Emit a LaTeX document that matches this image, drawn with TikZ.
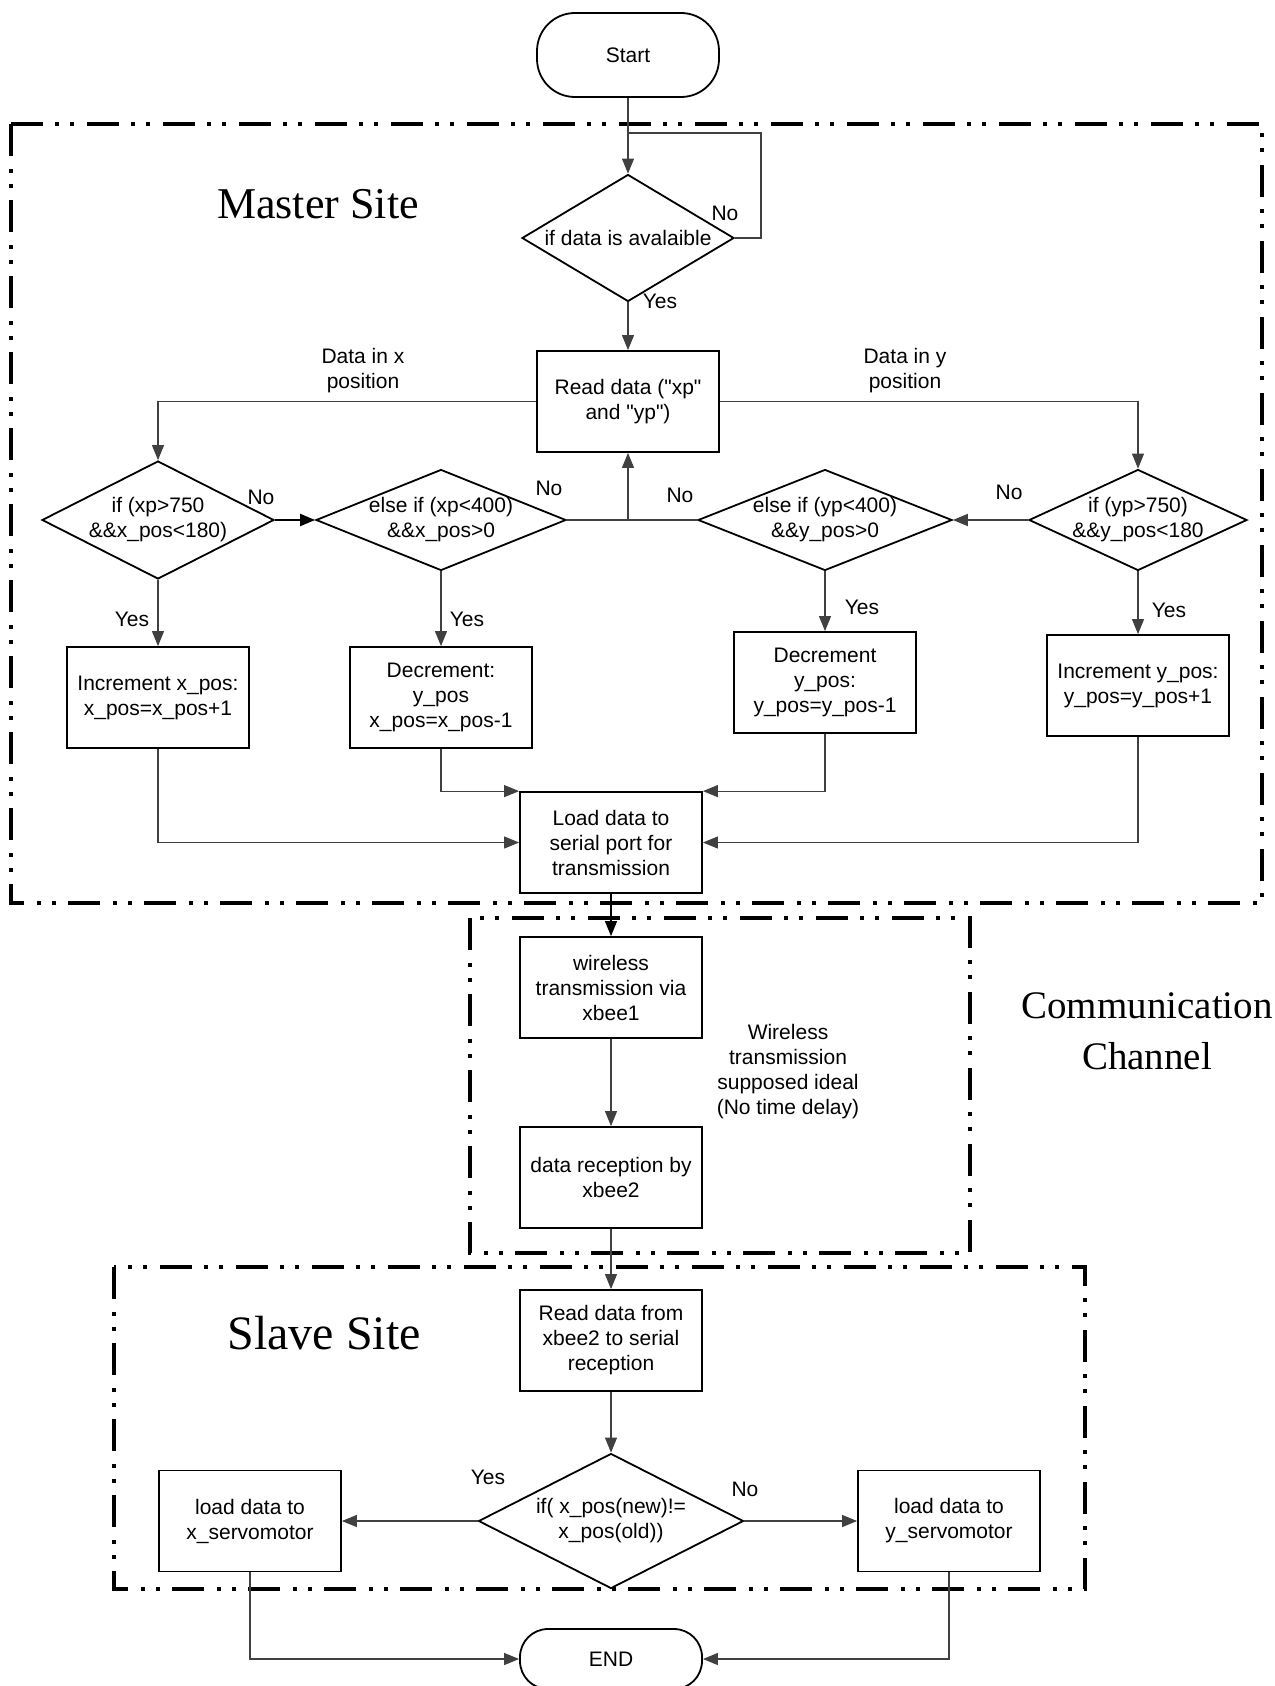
\documentclass[tikz,border=0pt]{standalone}
\usepackage{fontspec}
\setmainfont{Liberation Sans}
\newfontfamily\titlefont{Liberation Serif}
\usetikzlibrary{shapes.geometric,arrows.meta}
\newcommand\flowfont{\fontsize{10.5pt}{12.5pt}\selectfont}

\begin{document}
\begin{tikzpicture}[x=0.5pt,y=-0.5pt,
  every node/.style={font=\flowfont},
  box/.style={draw=black, line width=0.9pt, align=center, minimum width=91pt,
    minimum height=50.5pt, inner sep=1pt},
  term/.style={draw=black, line width=0.9pt, minimum width=91pt, minimum height=42pt},
  dec/.style={draw=black, diamond, line width=0.9pt, inner sep=0pt},
  txt/.style={align=center, inner sep=0pt},
  link/.style={draw=black!75, line width=0.55pt},
  flow/.style={link, -{Triangle[length=7.5pt,width=6pt]}},
  region/.style={draw=black, line width=1.7pt,
    dash pattern=on 16pt off 6.5pt on 2pt off 5.5pt on 2pt off 6pt},
  heading/.style={inner sep=0pt, align=center}
]
\useasboundingbox (0,0) rectangle (1274,1686);
\clip (0,0) rectangle (1274,1686);

% ---- site frames ----
\draw[region] (11,124) rectangle (1262,903);
\draw[region] (470,918) rectangle (970,1253);
\draw[region] (114,1267) rectangle (1085,1589);

\node[heading, font=\titlefont\fontsize{22pt}{26pt}\selectfont] (mtitle) at (318,204) {Master Site};
\node[heading, font=\titlefont\fontsize{19.5pt}{25.5pt}\selectfont] (ctitle) at (1147,1031) {Communication\\Channel};
\node[heading, font=\titlefont\fontsize{24pt}{28pt}\selectfont] (stitle) at (324,1333) {Slave Site};

% ---- master site ----
\node[term, rounded corners=19pt] (start) at (628,55) {Start};
\node[dec, minimum width=106pt, minimum height=63.5pt,
  label={[txt]center:{if data is avalaible}}] (avail) at (628,238) {};
\node[box] (read) at (628,401.5) {Read data (\textquotedbl xp\textquotedbl\\and \textquotedbl yp\textquotedbl)};

\node[dec, minimum width=116pt, minimum height=59pt,
  label={[txt]center:{if (xp>750\\\&\&x\_pos<180)}}] (d1) at (158,520) {};
\node[dec, minimum width=125pt, minimum height=50.5pt,
  label={[txt]center:{else if (xp<400)\\\&\&x\_pos>0}}] (d2) at (441,520) {};
\node[dec, minimum width=127pt, minimum height=50.5pt,
  label={[txt]center:{else if (yp<400)\\\&\&y\_pos>0}}] (d3) at (825,520) {};
\node[dec, minimum width=109pt, minimum height=50.5pt,
  label={[txt]center:{if (yp>750)\\\&\&y\_pos<180}}] (d4) at (1138,520) {};

\node[box] (b1) at (158,697.5) {Increment x\_pos:\\x\_pos=x\_pos+1};
\node[box] (b2) at (441,697.5) {Decrement:\\y\_pos\\x\_pos=x\_pos-1};
\node[box] (b3) at (825,682.5) {Decrement\\y\_pos:\\y\_pos=y\_pos-1};
\node[box] (b4) at (1138,685.5) {Increment y\_pos:\\y\_pos=y\_pos+1};

\node[box] (load) at (611,842.5) {Load data to\\serial port for\\transmission};

% ---- communication channel ----
\node[box] (wl) at (611,987.5) {wireless\\transmission via\\xbee1};
\node[box] (rec) at (611,1177.5) {data reception by\\xbee2};
\node[txt] (wnote) at (788,1072) {Wireless\\transmission\\supposed ideal\\(No time delay)};

% ---- slave site ----
\node[box] (rd2) at (611,1340.5) {Read data from\\xbee2 to serial\\reception};
\node[dec, minimum width=132.5pt, minimum height=67.5pt,
  label={[txt]center:{if( x\_pos(new)!=\\x\_pos(old))}}] (dec) at (611,1521) {};
\node[box] (xs) at (250,1521) {load data to\\x\_servomotor};
\node[box] (ys) at (949,1521) {load data to\\y\_servomotor};
\node[term, rounded corners=14pt, minimum height=30pt] (fin) at (611,1659) {END};

% ---- connectors ----
\coordinate (loopin) at (628,133);
\coordinate (merge) at (628,520);
\draw[flow] (start) -- (avail);
\draw[link] (avail.east) -- (761,238) |- (loopin);
\draw[flow] (avail) -- (read);
\draw[flow] (read.west) -| (d1.north);
\draw[flow] (read.east) -| (d4.north);
\draw[flow, line width=1.1pt, draw=black] (d1.east) -- (d2.west);
\draw[link] (d2.east) -- (merge);
\draw[link] (d3.west) -- (merge);
\draw[flow] (merge) -- (read.south);
\draw[flow, line width=0.9pt] (d4.west) -- (d3.east);

\draw[flow] (d1) -- (b1);
\draw[flow] (d2) -- (b2);
\draw[flow] (d3) -- (b3);
\draw[flow] (d4) -- (b4);

\draw[flow] (b2.south) |- (load.north west);
\draw[flow] (b3.south) |- (load.north east);
\draw[flow] (b1.south) |- (load.west);
\draw[flow] (b4.south) |- (load.east);

\draw[flow, draw=black] (load) -- (wl);
\draw[flow] (wl) -- (rec);
\draw[flow] (rec) -- (rd2);
\draw[flow] (rd2) -- (dec);
\draw[flow] (dec) -- (xs);
\draw[flow] (dec) -- (ys);
\draw[flow] (xs.south) |- (fin.west);
\draw[flow] (ys.south) |- (fin.east);

% ---- branch labels ----
\node (lyes0) at (660,301) {Yes};
\node (lno0) at (725,213) {No};
\node[txt] (lx) at (363,371) {Data in x\\position};
\node[txt] (ly) at (905,371) {Data in y\\position};
\node (lno1) at (261,497) {No};
\node (lno2) at (549,488) {No};
\node (lno3) at (680,495) {No};
\node (lno4) at (1009,492) {No};
\node (lyes1) at (132,619) {Yes};
\node (lyes2) at (467,619) {Yes};
\node (lyes3) at (862,607) {Yes};
\node (lyes4) at (1169,610) {Yes};
\node (lyes5) at (488,1477) {Yes};
\node (lno5) at (745,1489) {No};
\end{tikzpicture}
\end{document}
